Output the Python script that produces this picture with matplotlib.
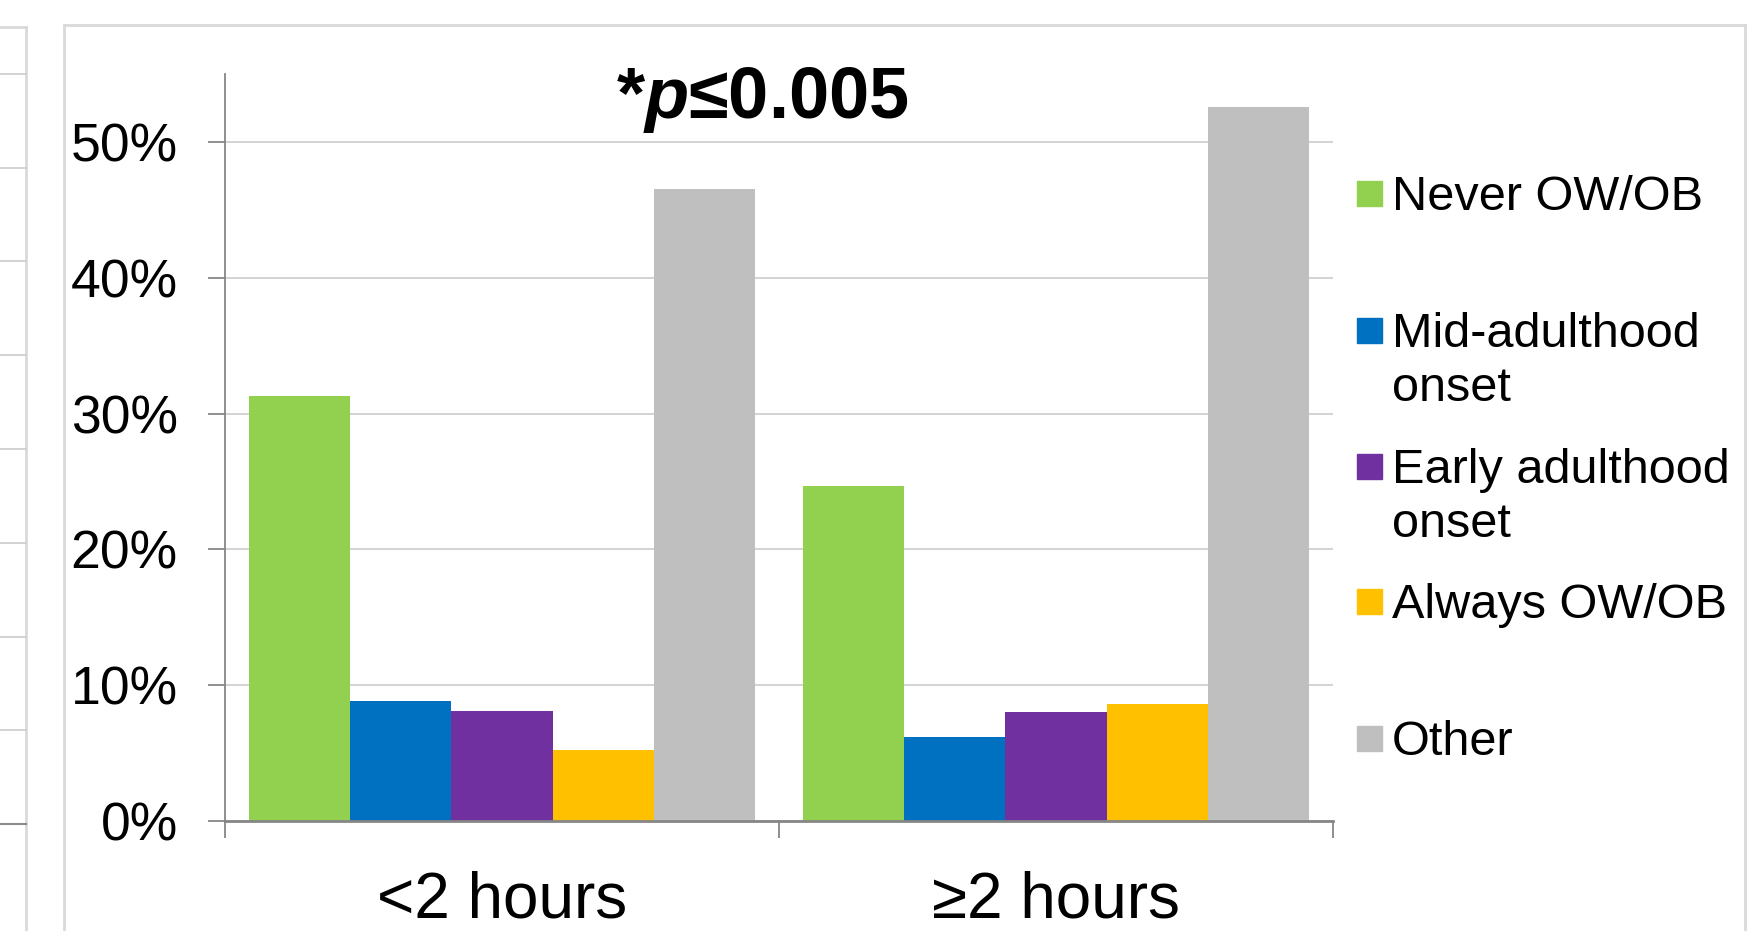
import matplotlib
matplotlib.use("Agg")
import matplotlib.pyplot as plt
from matplotlib.lines import Line2D
from matplotlib.patches import Rectangle
import numpy as np

plt.rcParams["font.family"] = ["Liberation Sans", "DejaVu Sans"]
plt.rcParams["mathtext.fontset"] = "custom"
plt.rcParams["mathtext.bfit"] = "Liberation Sans:italic:bold"
plt.rcParams["mathtext.bf"] = "Liberation Sans:bold"

categories = ["<2 hours", "\u22652 hours"]
series = ["Never OW/OB", "Mid-adulthood\nonset", "Early adulthood\nonset", "Always OW/OB", "Other"]
colors = ["#92D050", "#0070C0", "#7030A0", "#FFC000", "#BFBFBF"]
never = [31.3, 24.7]
mid = [8.8, 6.2]
early = [8.1, 8.0]
always = [5.2, 8.6]
other = [46.5, 52.6]
values = [never, mid, early, always, other]
yticks = [0, 10, 20, 30, 40, 50]

W, H = 1756, 931
fig = plt.figure(figsize=(W / 100, H / 100), dpi=100)


def fx(x):
    return x / W


def fy(y):
    return 1 - y / H


# frames of the slide around the chart
def line(x0, y0, x1, y1, c="#d9d9d9", lw=2):
    fig.add_artist(Line2D([fx(x0), fx(x1)], [fy(y0), fy(y1)], color=c, lw=lw,
                          transform=fig.transFigure))


line(64, 25, 1745, 25)
line(64, 25, 64, 931)
line(1745, 25, 1745, 931)
line(0, 27, 26, 27)
line(26, 27, 26, 931)
for yy in [74, 168, 261, 355, 449, 543, 637, 730]:
    line(0, yy, 26, yy, c="#cfcfcf", lw=1.3)
line(0, 824, 26, 824, c="#8a8a8a", lw=1.5)

ax = fig.add_axes([fx(225), fy(821), fx(1333 - 225), (821 - 74) / H])
x = np.arange(len(categories))
w = 0.1825
for i, (name, vals) in enumerate(zip(series, values)):
    ax.bar(x + (i - 2) * w, vals, width=w, color=colors[i], zorder=2)

ax.set_xlim(-0.5, 1.5)
ax.set_ylim(0, 55)
ax.set_yticks(yticks)
ax.set_yticklabels([f"{v}%" for v in yticks], fontsize=38.5)
ax.yaxis.grid(True, color="#d0d0d0", lw=1.3, zorder=0)
ax.tick_params(axis="y", length=12, width=1.3, color="#868686", pad=22)
ax.set_xticks([-0.5, 0.5, 1.5])
ax.set_xticklabels([])
ax.tick_params(axis="x", which="major", length=12, width=1.3, color="#868686")
ax.set_xticks(x, minor=True)
ax.set_xticklabels(categories, minor=True, fontsize=46)
ax.tick_params(axis="x", which="minor", length=0, pad=36)
for s in ["top", "right"]:
    ax.spines[s].set_visible(False)
ax.spines["left"].set_color("#868686")
ax.spines["left"].set_linewidth(1.3)
ax.spines["bottom"].set_color("#868686")
ax.spines["bottom"].set_linewidth(2)

fig.text(fx(762), fy(118), "*$\\mathbfit{p}$\u22640.005", fontsize=52, fontweight="bold",
         ha="center", va="baseline")

# legend drawn by hand so the box sits beside the first line
ys = [193, 330, 466, 601, 738]
for name, c, yc in zip(series, colors, ys):
    fig.add_artist(Rectangle((fx(1357), fy(yc + 12.5)), fx(25), 25 / H, color=c,
                             transform=fig.transFigure))
    for k, part in enumerate(name.split("\n")):
        fig.text(fx(1392), fy(yc + 17 + 54 * k), part, fontsize=35, va="baseline", ha="left")

fig.savefig("out.png", dpi=100)
